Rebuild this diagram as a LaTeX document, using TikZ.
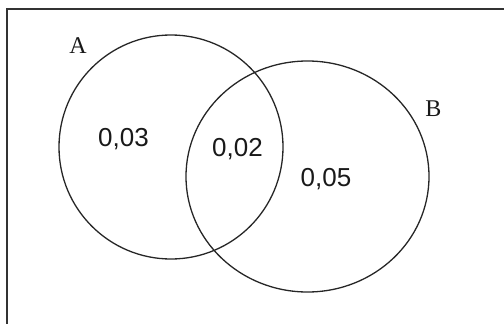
\documentclass[tikz,border=0pt]{standalone}
\usepackage{fontspec}
\setmainfont{Liberation Serif}
\newfontfamily\numfont{Liberation Sans}
\begin{document}
\begin{tikzpicture}[x=1pt,y=-1pt,
  setline/.style={draw=black!85,line width=1.3pt},
  framestyle/.style={draw=black!80,line width=2pt},
  setname/.style={font=\fontsize{24}{24}\selectfont,anchor=base,inner sep=0pt,text=black!90},
  prob/.style={font=\numfont\fontsize{26}{26}\selectfont,anchor=base,inner sep=0pt,text=black!90}]
  \useasboundingbox (0,0) rectangle (504,324);
  % sample space frame (open to the right and bottom)
  \draw[framestyle] (6.5,324) -- (6.5,8.5) -- (504,8.5);
  % the two events
  \draw[setline] (171,147) circle [radius=112];
  \draw[setline] (307.5,176.5) ellipse [x radius=121.5, y radius=115.5];
  % event names
  \node[setname] (labA) at (78,53) {A};
  \node[setname] (labB) at (433.5,116) {B};
  % probabilities of the regions
  \node[prob] (onlyA) at (123.5,146) {0,03};
  \node[prob] (both) at (237.5,156) {0,02};
  \node[prob] (onlyB) at (326,186) {0,05};
\end{tikzpicture}
\end{document}
